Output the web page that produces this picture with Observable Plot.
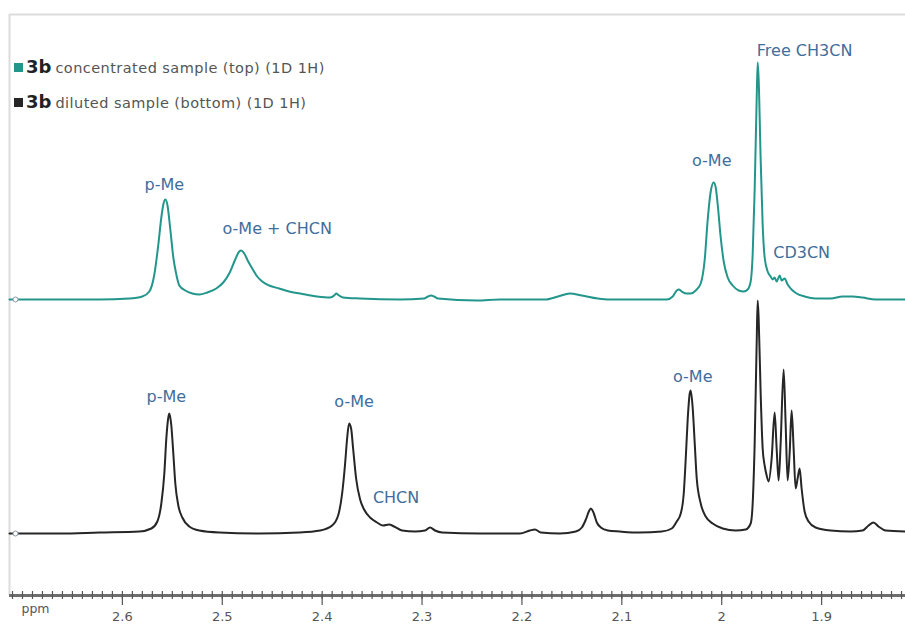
<!DOCTYPE html>
<html><head><meta charset="utf-8">
<script src="https://cdn.jsdelivr.net/npm/d3@7"></script>
<script src="https://cdn.jsdelivr.net/npm/@observablehq/plot@0.6"></script>
<style>
body{margin:0;background:#fff;}
#wrap{position:relative;width:905px;height:628px;}
#legend{position:absolute;left:14px;top:49px;font-family:"DejaVu Sans",sans-serif;color:#555;}
.row{height:35px;display:flex;align-items:center;white-space:nowrap;}
.sw{display:inline-block;width:9px;height:9px;margin-right:3px;margin-top:2px}
.k{font-weight:bold;font-size:18px;color:#222;margin-right:4px}
.t{font-size:14.5px;letter-spacing:0.45px;margin-top:2px}
</style></head>
<body><div id="wrap"><div id="chart"></div><div id="legend"></div></div>
<script>
// ---- data: [ppm, intensity] ----
const topSpectrum = [
[2.713,0],[2.623,0],[2.593,1],[2.580,3],[2.573,8],[2.568,25],[2.564,55],[2.561,82],[2.559,95],[2.557,100],
[2.555,95],[2.552,70],[2.549,42],[2.546,25],[2.543,14],[2.537,9],[2.530,6],[2.523,5],[2.515,7],[2.506,11],
[2.499,17],[2.493,26],[2.487,40],[2.483,48],[2.481,49],[2.478,46],[2.474,38],[2.470,31],[2.465,23],[2.460,18],
[2.453,14],[2.443,11],[2.433,8],[2.422,6],[2.405,3],[2.392,2],[2.388,4],[2.386,6],[2.383,4],[2.379,2],
[2.362,1],[2.322,0],[2.298,1],[2.294,3],[2.291,4],[2.288,3],[2.284,1],[2.245,-1],[2.222,0],[2.177,0],
[2.164,3],[2.152,6],[2.140,4],[2.124,1],[2.112,0],[2.055,0],[2.049,3],[2.045,9],[2.043,10],[2.040,8],
[2.035,6],[2.031,6],[2.026,9],[2.021,16],[2.017,40],[2.014,80],[2.011,108],[2.008,117],[2.006,112],[2.004,95],
[2.001,62],[1.998,38],[1.994,22],[1.989,14],[1.983,9],[1.978,8],[1.974,10],[1.971,18],[1.969,45],[1.967,110],
[1.965,200],[1.964,237],[1.963,220],[1.961,140],[1.959,75],[1.957,42],[1.954,28],[1.951,23],[1.949,20],[1.947,22],
[1.945,18],[1.942,24],[1.940,19],[1.937,21],[1.934,15],[1.930,10],[1.925,6],[1.917,3],[1.906,1],[1.891,1],
[1.879,3],[1.869,3],[1.859,2],[1.846,0],[1.816,0]
];
const bottomSpectrum = [
[2.713,0],[2.663,0],[2.623,1],[2.583,2],[2.571,5],[2.565,12],[2.561,30],[2.558,60],[2.556,95],[2.554,116],
[2.553,120],[2.551,108],[2.549,80],[2.547,50],[2.544,28],[2.540,16],[2.533,7],[2.523,3],[2.503,1],[2.463,0],
[2.423,1],[2.402,3],[2.390,8],[2.384,18],[2.380,40],[2.377,70],[2.375,95],[2.373,110],[2.371,105],[2.369,85],
[2.366,55],[2.362,34],[2.358,24],[2.352,16],[2.345,11],[2.339,8],[2.333,9],[2.328,7],[2.320,3],[2.307,2],
[2.297,3],[2.292,6],[2.287,3],[2.280,1],[2.242,0],[2.202,0],[2.192,3],[2.187,4],[2.181,1],[2.162,0],
[2.146,2],[2.140,6],[2.136,14],[2.133,22],[2.131,25],[2.128,20],[2.125,11],[2.121,6],[2.114,3],[2.102,2],
[2.082,1],[2.060,2],[2.050,5],[2.045,12],[2.041,20],[2.038,40],[2.036,75],[2.034,115],[2.032,140],[2.031,143],
[2.029,125],[2.027,90],[2.025,55],[2.021,30],[2.016,17],[2.009,10],[1.999,5],[1.986,3],[1.976,4],[1.971,10],
[1.969,30],[1.967,90],[1.965,190],[1.964,233],[1.963,215],[1.961,140],[1.959,85],[1.957,68],[1.955,58],[1.953,52],
[1.950,75],[1.947,121],[1.945,85],[1.943,53],[1.941,90],[1.938,164],[1.936,110],[1.934,53],[1.932,80],[1.930,123],
[1.928,85],[1.926,45],[1.924,55],[1.922,65],[1.920,45],[1.917,22],[1.913,12],[1.906,6],[1.891,3],[1.871,2],
[1.859,3],[1.853,8],[1.848,11],[1.843,7],[1.836,3],[1.816,2]
];
const seriesNames = ["concentrated sample (top) (1D 1H)", "diluted sample (bottom) (1D 1H)"];
const seriesColors = ["#23968c", "#262626"];
const compound = "3b";
const stackOffset = 234; // vertical stacking offset of the top trace (intensity units)

const labelText = ["p-Me","o-Me + CHCN","o-Me","Free CH3CN","CD3CN","p-Me","o-Me","CHCN","o-Me"];
const labelPpm  = [2.558, 2.445, 2.010, 1.917, 1.920, 2.556, 2.368, 2.326, 2.029];
const labelInt  = [115, 71, 139, 249, 47, 137, 132, 36, 157];
const labelSeries = [0,0,0,0,0,1,1,1,1];

const majorTicks = [2.6, 2.5, 2.4, 2.3, 2.2, 2.1, 2.0, 1.9];
const xDomain = [2.713, 1.816];
const yDomain = [-62, 519];

// ---- build ----
const pts = [];
topSpectrum.forEach(([p, v]) => pts.push({s: 0, ppm: p, y: v + stackOffset}));
bottomSpectrum.forEach(([p, v]) => pts.push({s: 1, ppm: p, y: v}));
const labels = labelText.map((t, i) => ({t, ppm: labelPpm[i], y: labelInt[i] + (labelSeries[i] === 0 ? stackOffset : 0)}));
const starts = [{ppm: topSpectrum[0][0], y: stackOffset}, {ppm: bottomSpectrum[0][0], y: 0}];
const minor = d3.range(2.71, 1.815, -0.01).map(v => +v.toFixed(2));
const y0 = yDomain[0];

const chart = Plot.plot({
  width: 905, height: 628,
  marginLeft: 9, marginRight: 0, marginTop: 14, marginBottom: 33,
  style: {fontFamily: "DejaVu Sans, sans-serif", background: "#fff"},
  x: {domain: xDomain},
  y: {domain: yDomain, axis: null},
  marks: [
    Plot.ruleY([yDomain[1]], {stroke: "#dcdcdc", strokeWidth: 2}),
    Plot.ruleX([xDomain[0]], {stroke: "#dcdcdc", strokeWidth: 2}),
    Plot.line(pts, {x: "ppm", y: "y", z: "s", stroke: d => seriesColors[d.s], strokeWidth: 2, curve: "monotone-x"}),
    Plot.dot(starts, {x: "ppm", y: "y", r: 2.5, stroke: "#8a96a8", fill: "#fff", strokeWidth: 1, dx: 6}),
    Plot.text(labels, {x: "ppm", y: "y", text: "t", fill: "#3f6e9c", fontSize: 16, letterSpacing: "0.7px"}),
    Plot.ruleY([y0], {stroke: "#6e6e6e", strokeWidth: 3}),
    Plot.ruleX(minor, {x: d => d, y1: y0 - 4, y2: y0 + 4, stroke: "#555", strokeWidth: 1.2}),
    Plot.axisX({ticks: majorTicks, tickSize: 10, tickPadding: 6, fontSize: 13, tickFormat: d => d3.format("~g")(d), color: "#555", strokeWidth: 1.2, label: null}),
    Plot.text(["ppm"], {frameAnchor: "bottom-left", dx: 12, dy: 17, fill: "#555", fontSize: 12.5, textAnchor: "start"})
  ]
});
document.getElementById("chart").append(chart);

const lg = document.getElementById("legend");
seriesNames.forEach((n, i) => {
  const row = document.createElement("div");
  row.className = "row";
  row.innerHTML = `<span class="sw" style="background:${seriesColors[i]}"></span><span class="k">${compound}</span><span class="t">${n}</span>`;
  lg.append(row);
});
</script>
</body></html>
